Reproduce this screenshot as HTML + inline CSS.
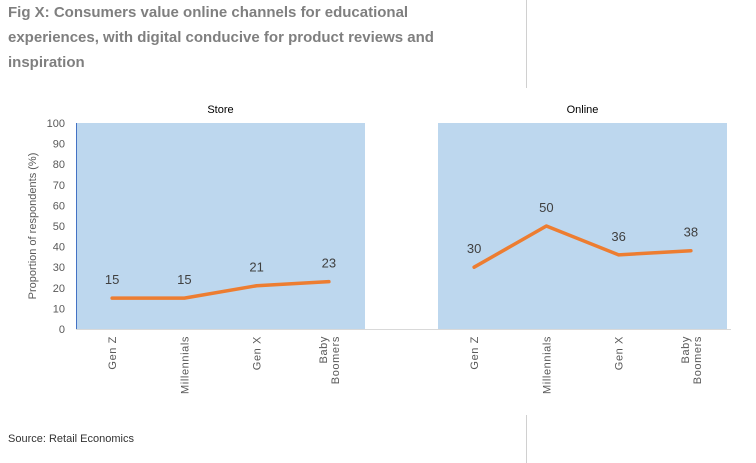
<!DOCTYPE html>
<html><head><meta charset="utf-8"><style>
html,body{margin:0;padding:0;background:#fff;}
svg{display:block;font-family:"Liberation Sans",sans-serif;}
</style></head><body>
<svg id="c" width="756" height="463" viewBox="0 0 756 463">
<g fill="#7f7f7f" font-weight="bold" font-size="15">
<text x="8" y="17">Fig X: Consumers value online channels for educational</text>
<text x="8" y="42">experiences, with digital conducive for product reviews and</text>
<text x="8" y="67">inspiration</text>
</g>
<line x1="526.5" y1="0" x2="526.5" y2="88" stroke="#d0d0d0"/>
<line x1="526.5" y1="415" x2="526.5" y2="463" stroke="#d0d0d0"/>
<text x="8" y="442" font-size="11" fill="#333">Source: Retail Economics</text>
<g id="plot"></g>
</svg>
<script>
const categories = ["Gen Z", "Millennials", "Gen X", "Baby Boomers"];
const panels = ["Store", "Online"];
const storeValues = [15, 15, 21, 23];
const onlineValues = [30, 50, 36, 38];
const yTicks = [0,10,20,30,40,50,60,70,80,90,100];

const NS = "http://www.w3.org/2000/svg";
const g = document.getElementById('plot');
const yTop = 123, yBot = 329;
const panelLeft = [76, 438], panelW = 289;
function y(v){ return yBot - (v/100)*(yBot-yTop); }
function x(p,i){ return panelLeft[p] + panelW/4*(i+0.5); }
function mk(tag, attrs, txt){ const e=document.createElementNS(NS,tag); for(const k in attrs) e.setAttribute(k,attrs[k]); if(txt!==undefined) e.textContent=txt; g.appendChild(e); return e; }

const seriesAll = [storeValues, onlineValues];
panels.forEach((name,p)=>{
  const r = mk('rect',{x:panelLeft[p],y:yTop,width:panelW,height:yBot-yTop,fill:'#bdd7ee'});
  
  
  const t = mk('text',{x:panelLeft[p]+panelW/2,y:113,'text-anchor':'middle','font-size':'11',fill:'#000'},name);
  
  
  const vals = seriesAll[p];
  const d = vals.map((v,i)=>(i?'L':'M')+x(p,i)+' '+y(v)).join(' ');
  const path = mk('path',{d:d,fill:'none',stroke:'#ed7d31','stroke-width':'3.5','stroke-linecap':'round','stroke-linejoin':'round'});
  
  
  vals.forEach((v,i)=>{
    const l = mk('text',{x:x(p,i),y:y(v)-14,'text-anchor':'middle','font-size':'13',fill:'#404040'},String(v));
    
    
  });
  categories.forEach((c,i)=>{
    const parts = c==="Baby Boomers" ? ["Baby","Boomers"] : [c];
    parts.forEach((s,k)=>{
      const cx = x(p,i) + 4 + (k - (parts.length-1)/2)*12;
      const t2 = mk('text',{x:cx,y:336,'text-anchor':'end','font-size':'11',fill:'#595959','letter-spacing':'0.6',transform:`rotate(-90 ${cx} 336)`},s);
      
      
    });
  });
});
const ax = mk('line',{x1:76,y1:yBot+0.5,x2:731,y2:yBot+0.5,stroke:'#d9d9d9','stroke-width':'1'});


const yl = mk('line',{x1:76.5,y1:yTop,x2:76.5,y2:yBot,stroke:'#4472c4','stroke-width':'1'});


yTicks.forEach(v=>{
  const t = mk('text',{x:65,y:y(v)+4,'text-anchor':'end','font-size':'11',fill:'#595959'},String(v));
  
  
});
const yt = mk('text',{x:36,y:226,'text-anchor':'middle','font-size':'11',fill:'#595959',transform:'rotate(-90 36 226)'},'Proportion of respondents (%)');


</script>
</body></html>
